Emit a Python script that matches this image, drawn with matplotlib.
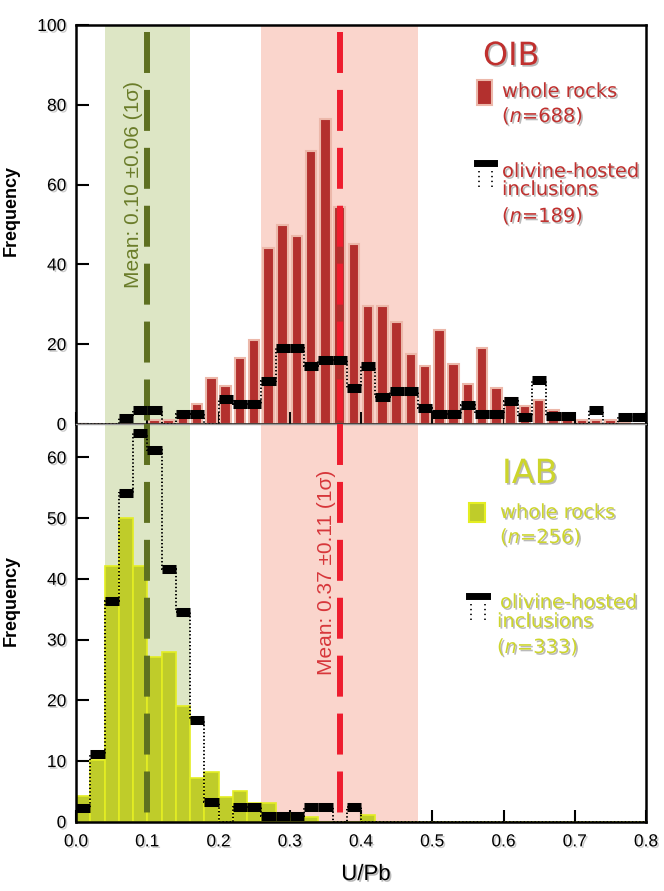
import matplotlib
matplotlib.use("Agg")
import matplotlib.pyplot as plt
import matplotlib.patheffects as pe
from matplotlib.patches import Rectangle
from matplotlib.lines import Line2D
import numpy as np

plt.rcParams['font.family'] = ['Liberation Sans', 'DejaVu Sans']
plt.rcParams['lines.scale_dashes'] = False

# 0.02-wide U/Pb bins from 0.00 to 0.80
edges = np.round(np.linspace(0, 0.8, 41), 2)

oib_whole = [0, 0, 0, 0, 0, 1, 1, 2, 5, 11.5,
             9.5, 16.5, 21, 44, 50, 47, 68.5, 76.5, 54.5, 45,
             29.5, 29.5, 25.5, 17.5, 14.5, 23.5, 15, 10, 19, 9,
             6.5, 4.5, 6, 3.5, 2.5, 1, 1, 1, 0.5, 0]
oib_incl = [0, 0, 0, 1.5, 3.5, 3.5, 0, 2.5, 2.5, 0,
            6.3, 5, 5, 10.7, 19, 19, 14.5, 16, 16, 9,
            14.5, 6.7, 8.3, 8.3, 4, 2.5, 2.5, 4.8, 2.5, 2.5,
            5.7, 1.8, 11, 2, 2, 0, 3.5, 0, 1.8, 1.8]
iab_whole = [4.2, 10.2, 42.2, 50.1, 42.2, 27.2, 28.0, 19.1, 7.2, 8.2,
             4.1, 5.1, 3.1, 3.1, 1.4, 0.5, 0.8, 0, 0, 0,
             1.1, 0, 0, 0, 0, 0, 0, 0, 0, 0,
             0, 0, 0, 0, 0, 0, 0, 0, 0, 0]
iab_incl = [2.3, 11.1, 36.4, 54.1, 64.1, 61.2, 41.6, 34.6, 16.8, 3.3,
            0, 2.5, 2.5, 1.0, 1.0, 1.0, 2.5, 2.5, 0, 2.5,
            0, 0, 0, 0, 0, 0, 0, 0, 0, 0,
            0, 0, 0, 0, 0, 0, 0, 0, 0, 0]

iab_mean, iab_sd = 0.10, 0.06
oib_mean, oib_sd = 0.37, 0.11

W, H = 664, 891
fig = plt.figure(figsize=(W / 100, H / 100), dpi=100)


def fx(x):
    return x / W


def fy(y):
    return 1 - y / H


ax1 = fig.add_axes([fx(76), fy(424), fx(570), (424 - 25) / H])
ax2 = fig.add_axes([fx(76), fy(821.8), fx(570), (821.8 - 424) / H])

red_fill, red_edge = '#b3302e', '#ecb8aa'
grn_fill, grn_edge = '#bfcc2a', '#e4ee22'
red_txt, yel_txt = '#c0302e', '#cdd52c'
shadow = [pe.SimplePatchShadow(offset=(1.2, -1.2), shadow_rgbFace='0.55', alpha=0.6), pe.Normal()]
tick_shadow = [pe.SimplePatchShadow(offset=(1.2, -1.2), shadow_rgbFace='0.6', alpha=0.5), pe.Normal()]

centers = (edges[:-1] + edges[1:]) / 2


def incl_steps(ax, h):
    h = np.asarray(h, float)
    ax.stairs(h, edges, baseline=0, color='k', linestyle=(0, (1, 1.6)),
              linewidth=1.4, zorder=4)
    m = h > 0
    ax.hlines(h[m], edges[:-1][m], edges[1:][m], colors='k', linewidth=6.5, zorder=5)


for ax, top in [(ax1, 100), (ax2, 65.5)]:
    ax.axvspan(iab_mean - iab_sd, iab_mean + iab_sd, color='#dde6c5', lw=0, zorder=0)
    ax.axvspan(oib_mean - oib_sd, oib_mean + oib_sd, color='#fad5cc', lw=0, zorder=0)
    ax.set_xlim(0, 0.8)
    ax.set_ylim(0, top)
    ax.set_xticks(np.round(np.arange(0, 0.81, 0.1), 1))
    ax.tick_params(direction='in', length=9, width=1.5, labelsize=12.5, pad=7)
    ax.tick_params(axis='x', pad=9)
    for s in ax.spines.values():
        s.set_linewidth(1.8)

ax1.bar(centers, oib_whole, width=0.0145, color=red_fill, edgecolor=red_edge,
        linewidth=1.5, zorder=2)
ax2.bar(centers, iab_whole, width=0.02, color=grn_fill, edgecolor=grn_edge,
        linewidth=1.2, zorder=2)

incl_steps(ax1, oib_incl)
incl_steps(ax2, iab_incl)

ax1.set_yticks(np.arange(0, 101, 20))
ax2.set_yticks(np.arange(0, 61, 10))
ax1.tick_params(axis='x', labelbottom=False)
ax2.spines['top'].set_color('0.6')
ax2.spines['top'].set_linewidth(1)
for ax in (ax1, ax2):
    for lab in ax.get_xticklabels() + ax.get_yticklabels():
        lab.set_path_effects(tick_shadow)

# mean lines
for ax, top in [(ax1, 98.2), (ax2, 65.5)]:
    ax.plot([iab_mean, iab_mean], [top, 0], color='#5e7020', lw=4.3,
            dashes=(29.5, 12.2), zorder=3)
    ax.plot([oib_mean, oib_mean], [top, 0], color='#ee1d2e', lw=4.3,
            dashes=(29.5, 12.2), zorder=3)

ax1.text(0.081, 60, 'Mean: 0.10 \u00b10.06 (1\u03c3)', rotation=90, color='#6b7d2a',
         fontsize=15, ha='center', va='center', zorder=6)
ax2.text(0.352, 41, 'Mean: 0.37 \u00b10.11 (1\u03c3)', rotation=90, color='#d7363a',
         fontsize=15, ha='center', va='center', zorder=6)

# axis labels
for yc in (210, 600):
    fig.text(fx(20), fy(yc), 'Frequency', rotation=90, fontsize=13, fontweight='bold',
             ha='right', va='center')
fig.text(fx(366), fy(880), 'U/Pb', fontsize=16, ha='center', va='baseline',
         path_effects=shadow)

# legends
leg = dict(fontsize=14, family='DejaVu Sans', va='baseline', path_effects=shadow)
fig.text(fx(483), fy(65), 'OIB', color=red_txt, fontsize=23, family='DejaVu Sans',
         va='baseline', path_effects=shadow)
fig.text(fx(502), fy(97), 'whole rocks', color=red_txt, **leg)
fig.text(fx(502), fy(122), '($n$=688)', color=red_txt, **leg)
fig.text(fx(502), fy(177), 'olivine-hosted', color=red_txt, **leg)
fig.text(fx(502), fy(195), 'inclusions', color=red_txt, **leg)
fig.text(fx(502), fy(222), '($n$=189)', color=red_txt, **leg)

fig.text(fx(502), fy(483), 'IAB', color=yel_txt, fontsize=24, family='DejaVu Sans',
         va='baseline', path_effects=shadow)
fig.text(fx(500), fy(518), 'whole rocks', color=yel_txt, **leg)
fig.text(fx(500), fy(543), '($n$=256)', color=yel_txt, **leg)
fig.text(fx(500), fy(608), 'olivine-hosted', color=yel_txt, **leg)
fig.text(fx(497), fy(627), 'inclusions', color=yel_txt, **leg)
fig.text(fx(497), fy(653), '($n$=333)', color=yel_txt, **leg)


def legend_icons(x0, x1, y_patch, y_bar, face, edge):
    fig.add_artist(Rectangle((fx(x0), fy(y_patch[1])), fx(x1 - x0), (y_patch[1] - y_patch[0]) / H,
                             facecolor=face, edgecolor=edge, lw=1.5, transform=fig.transFigure))
    fig.add_artist(Line2D([fx(x0), fx(x1 + 2)], [fy(y_bar), fy(y_bar)], color='k', lw=5,
                          transform=fig.transFigure))
    for xd in (x0 + 1.5, x1):
        fig.add_artist(Line2D([fx(xd), fx(xd)], [fy(y_bar + 8), fy(y_bar + 26)], color='k',
                              lw=1.2, linestyle=(0, (1, 2.5)), transform=fig.transFigure))


legend_icons(477, 492, (80, 105), 163, red_fill, red_edge)
legend_icons(469, 485, (503, 522), 596, grn_fill, grn_edge)

fig.savefig('out.png', dpi=100)
